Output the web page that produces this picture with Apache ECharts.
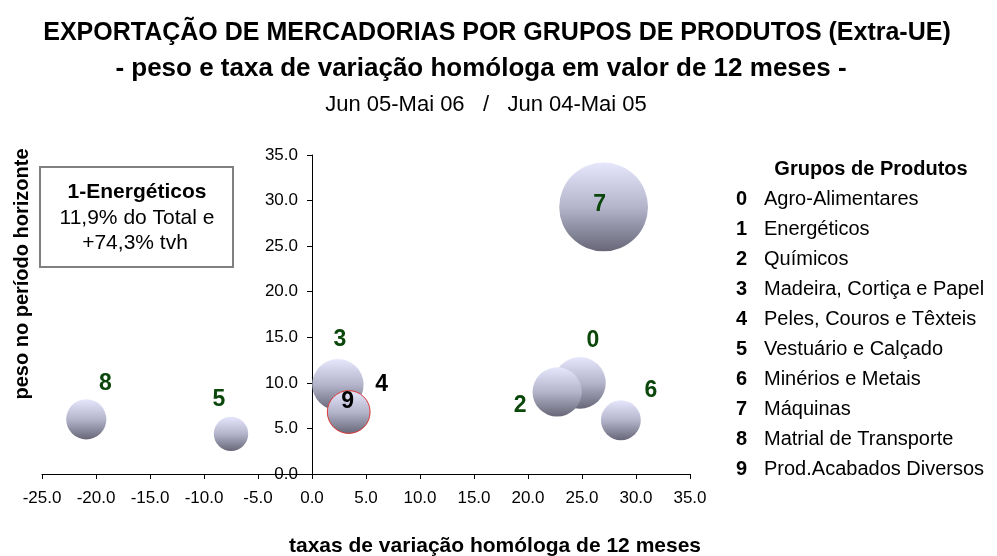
<!DOCTYPE html>
<html>
<head>
<meta charset="utf-8">
<script src="https://cdn.jsdelivr.net/npm/echarts@6/dist/echarts.min.js"></script>
<style>
  html, body { margin: 0; padding: 0; background: #fff; }
  #chart { width: 997px; height: 556px; }
</style>
</head>
<body>
<div id="chart"></div>
<script>
// grupos de produtos (legenda)
const groupCodes = ['0', '1', '2', '3', '4', '5', '6', '7', '8', '9'];
const groupNames = [
  'Agro-Alimentares', 'Energéticos', 'Químicos', 'Madeira, Cortiça e Papel',
  'Peles, Couros e Têxteis', 'Vestuário e Calçado', 'Minérios e Metais',
  'Máquinas', 'Matrial de Transporte', 'Prod.Acabados Diversos'
];

// bolhas visíveis (o grupo 1 fica fora da escala -> caixa de texto)
const bubbleCodes = ['0', '2', '3', '4', '5', '6', '7', '8', '9'];
const tvh = [24.8, 22.7, 2.4, 3.4, -7.5, 28.6, 27.0, -20.9, 3.4];   // eixo x
const peso = [10.0, 9.0, 9.8, 6.8, 4.4, 5.9, 29.3, 6.0, 6.8];       // eixo y

const xTicks = { min: -25, max: 35, interval: 5 };
const yTicks = { min: 0, max: 35, interval: 5 };

// deslocamento dos rótulos (px) em relação ao centro da bolha
const labelOffsets = {
  '0': [13, -42], '2': [-37, 14], '3': [2, -45], '4': [33, -27], '5': [-12, -34],
  '6': [30, -30], '7': [-4, -2], '8': [19, -36], '9': [-1, -10]
};
const blackLabels = ['4', '9'];

const FONT = 'Arial, "Liberation Sans", sans-serif';
const green = '#0b470b';

const GRID_LEFT = 42, GRID_RIGHT = 307;
const plotWidth = 997 - GRID_LEFT - GRID_RIGHT;
// eixo y desenhado em x = 0
const yAxisShift = (0 - xTicks.min) / (xTicks.max - xTicks.min) * plotWidth;

const bubbleFill = new echarts.graphic.LinearGradient(0, 0, 0, 1, [
  { offset: 0, color: '#e6e6fc' },
  { offset: 0.5, color: '#b4b4cb' },
  { offset: 1, color: '#676778' }
]);

const seriesData = bubbleCodes.map((code, i) => ({
  name: code,
  value: [tvh[i], peso[i]],
  label: {
    offset: labelOffsets[code],
    color: blackLabels.includes(code) ? '#000' : green
  },
  itemStyle: code === '9' ? { borderColor: '#e03a3a', borderWidth: 1 } : {}
}));

// legenda à direita
const legendGraphics = [{
  type: 'text', x: 871, y: 169,
  style: { text: 'Grupos de Produtos', font: 'bold 20px ' + FONT, fill: '#000', align: 'center', verticalAlign: 'middle' }
}];
groupCodes.forEach((code, i) => {
  legendGraphics.push({
    type: 'text', x: 736, y: 199 + i * 30,
    style: { text: code, font: 'bold 20px ' + FONT, fill: '#000', verticalAlign: 'middle' }
  });
  legendGraphics.push({
    type: 'text', x: 764, y: 199 + i * 30,
    style: { text: groupNames[i], font: '20px ' + FONT, fill: '#000', verticalAlign: 'middle' }
  });
});

const chart = echarts.init(document.getElementById('chart'), null, { renderer: 'canvas' });

chart.setOption({
  animation: false,
  backgroundColor: '#fff',
  grid: { left: GRID_LEFT, right: GRID_RIGHT, top: 155, bottom: 82 },
  xAxis: {
    type: 'value',
    min: xTicks.min, max: xTicks.max, interval: xTicks.interval,
    axisLine: { onZero: false, lineStyle: { color: '#000', width: 1 } },
    axisTick: { length: 5, lineStyle: { color: '#000' } },
    axisLabel: {
      margin: 16, color: '#000', fontFamily: FONT, fontSize: 17,
      formatter: v => v.toFixed(1)
    },
    splitLine: { show: false }
  },
  yAxis: {
    type: 'value',
    min: yTicks.min, max: yTicks.max, interval: yTicks.interval,
    offset: -yAxisShift,
    axisLine: { onZero: false, lineStyle: { color: '#000', width: 1 } },
    axisTick: { length: 5, lineStyle: { color: '#000' } },
    axisLabel: {
      margin: 14, color: '#000', fontFamily: FONT, fontSize: 17,
      formatter: v => v.toFixed(1)
    },
    splitLine: { show: false }
  },
  series: [{
    type: 'scatter',
    data: seriesData,
    symbol: 'circle',
    symbolSize: val => 16.4 * Math.sqrt(val[1]),
    itemStyle: { color: bubbleFill, opacity: 1 },
    emphasis: { disabled: true },
    label: {
      show: true,
      position: 'inside',
      formatter: p => p.name,
      fontFamily: FONT, fontWeight: 'bold', fontSize: 23
    }
  }],
  graphic: [
    {
      type: 'text', x: 497, y: 33,
      style: {
        text: 'EXPORTAÇÃO DE MERCADORIAS POR GRUPOS DE PRODUTOS (Extra-UE)',
        font: 'bold 25px ' + FONT, fill: '#000', align: 'center', verticalAlign: 'middle'
      }
    },
    {
      type: 'text', x: 481, y: 69,
      style: {
        text: '- peso e taxa de variação homóloga em valor de 12 meses -',
        font: 'bold 26px ' + FONT, fill: '#000', align: 'center', verticalAlign: 'middle'
      }
    },
    {
      type: 'text', x: 486, y: 105,
      style: {
        text: 'Jun 05-Mai 06   /   Jun 04-Mai 05',
        font: '22px ' + FONT, fill: '#000', align: 'center', verticalAlign: 'middle'
      }
    },
    {
      type: 'text', x: 495, y: 546,
      style: {
        text: 'taxas de variação homóloga de 12 meses',
        font: 'bold 21px ' + FONT, fill: '#000', align: 'center', verticalAlign: 'middle'
      }
    },
    {
      type: 'text', x: 22, y: 274, rotation: Math.PI / 2,
      style: {
        text: 'peso no período horizonte', font: 'bold 20px ' + FONT, fill: '#000',
        align: 'center', verticalAlign: 'middle'
      }
    },
    {
      type: 'rect', x: 40, y: 167,
      shape: { width: 193, height: 100 },
      style: { fill: '#fff', stroke: '#808080', lineWidth: 2 }
    },
    {
      type: 'text', x: 137, y: 192,
      style: { text: '1-Energéticos', font: 'bold 21px ' + FONT, fill: '#000', align: 'center', verticalAlign: 'middle' }
    },
    {
      type: 'text', x: 137, y: 218,
      style: { text: '11,9% do Total e', font: '21px ' + FONT, fill: '#000', align: 'center', verticalAlign: 'middle' }
    },
    {
      type: 'text', x: 135, y: 243,
      style: { text: '+74,3% tvh', font: '21px ' + FONT, fill: '#000', align: 'center', verticalAlign: 'middle' }
    }
  ].concat(legendGraphics)
});
</script>
</body>
</html>
